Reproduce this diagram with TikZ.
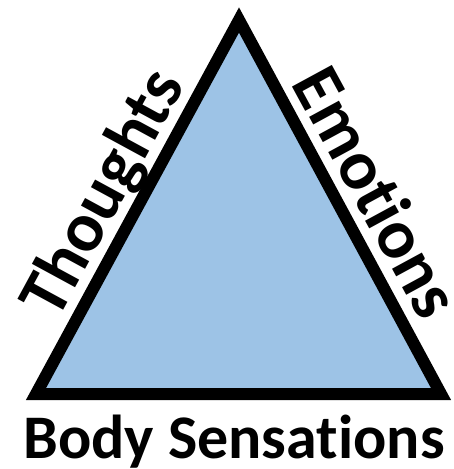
\documentclass[tikz,border=0pt]{standalone}
\usepackage{fontspec}
\setmainfont[Ligatures={NoCommon}]{Carlito}
\usepackage{tikz}
\usetikzlibrary{calc}
\definecolor{sideblue}{HTML}{9DC3E6}

\begin{document}
\begin{tikzpicture}[x=1pt,y=-1pt]
\tikzset{corner label/.style={inner sep=0pt,font=\fontsize{70}{74}\selectfont\bfseries}}
\useasboundingbox (0,0) rectangle (454,469);
\coordinate (apex) at (239,20);
\coordinate (left) at (36,394);
\coordinate (right) at (441,394);
\draw [black, line width=12pt, fill=sideblue, miter limit=10] (left) -- (apex) -- (right) -- cycle;
\node [corner label, rotate=61.5, anchor=base] (thoughts) at ($(left)!0.49!(apex) + (-14.1,-7.6)$) {Thoughts};
\node [corner label, rotate=-61.5, anchor=base] (emotions) at ($(apex)!0.51!(right) + (14.1,-7.6)$) {Emotions};
\node [corner label, font=\fontsize{62}{66}\selectfont\bfseries, anchor=base] (body) at (234,458) {Body Sensations};
\end{tikzpicture}
\end{document}
